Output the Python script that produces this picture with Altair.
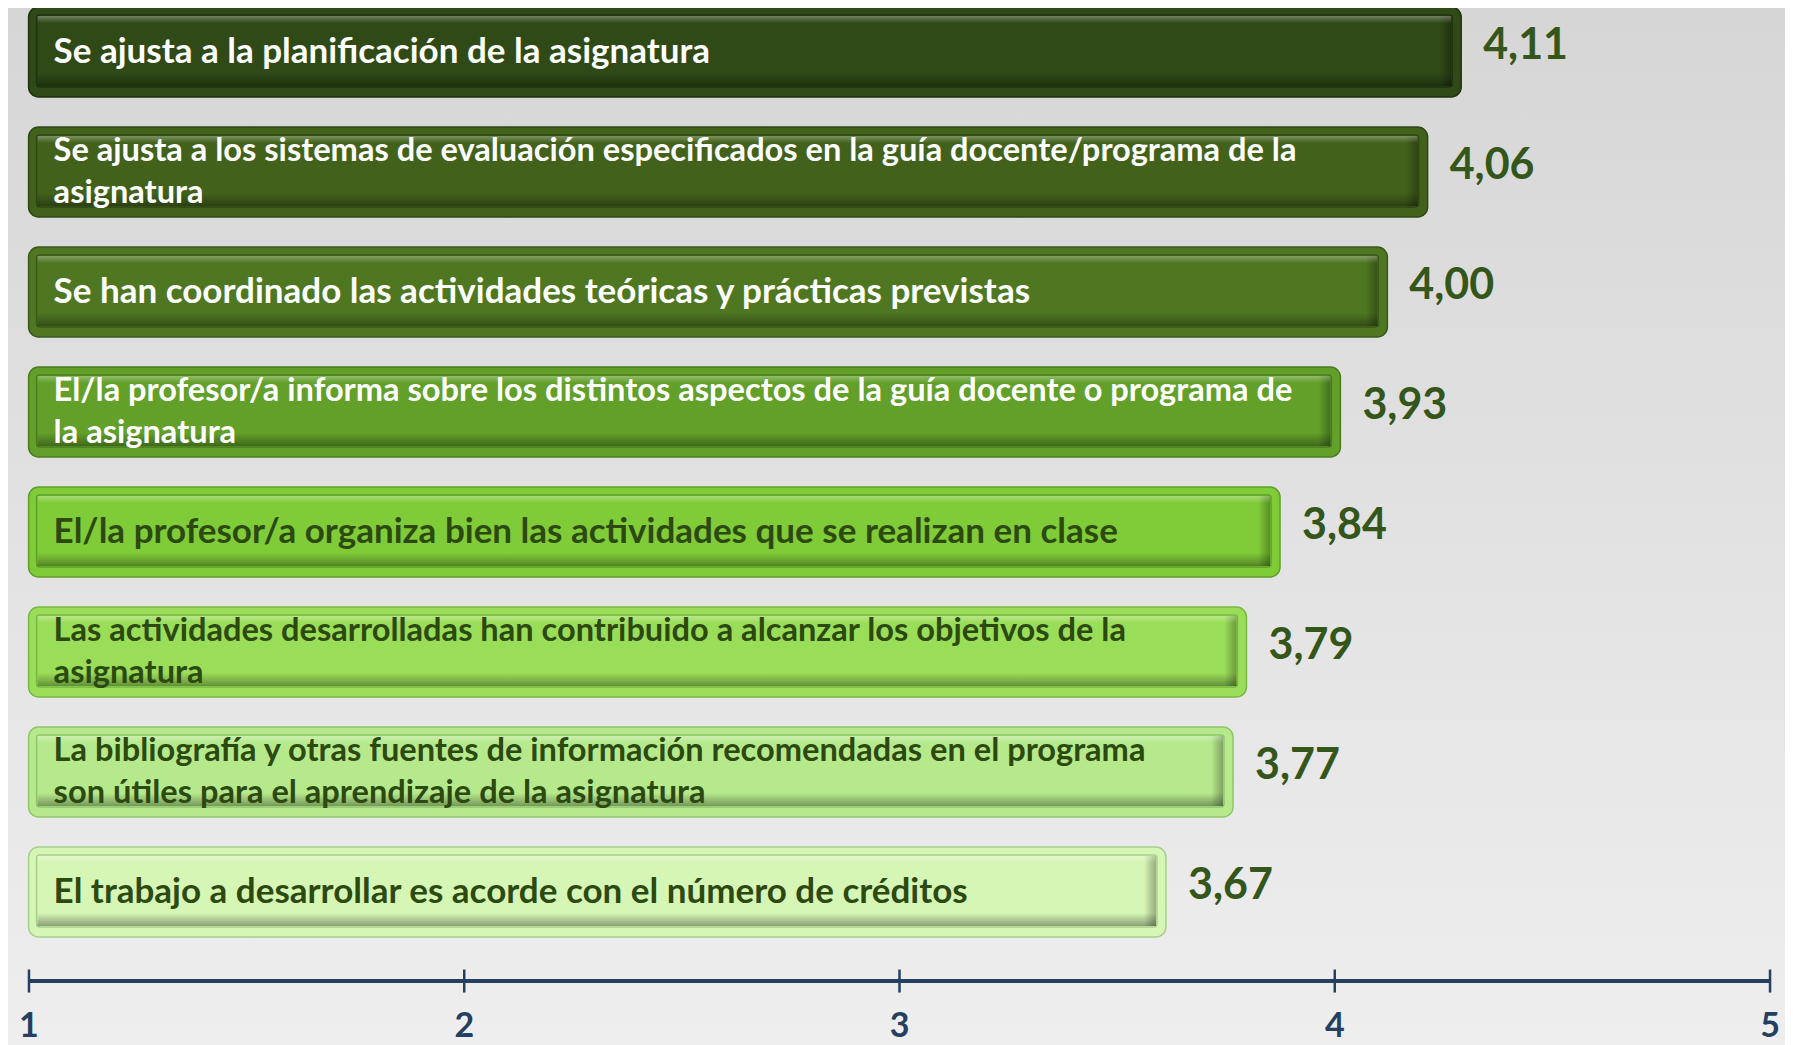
import altair as alt
import pandas as pd

# ---------------- data ----------------
LABELS = [
    "Se ajusta a la planificación de la asignatura",
    "Se ajusta a los sistemas de evaluación especificados en la guía docente/programa de la\nasignatura",
    "Se han coordinado las actividades teóricas y prácticas previstas",
    "El/la profesor/a informa sobre los distintos aspectos de la guía docente o programa de\nla asignatura",
    "El/la profesor/a organiza bien las actividades que se realizan en clase",
    "Las actividades desarrolladas han contribuido a alcanzar los objetivos de la\nasignatura",
    "La bibliografía y  otras fuentes de información recomendadas en el programa\nson útiles para el aprendizaje de la asignatura",
    "El trabajo a desarrollar es acorde con el número de créditos",
]
VALUES = [4.11, 4.06, 4.00, 3.93, 3.84, 3.79, 3.77, 3.67]
TICKS = [1, 2, 3, 4, 5]

# ---------------- styles ----------------
FACE = ["#2f4a16", "#42621c", "#4f7722", "#62a02a", "#80cb38", "#9add58", "#b6e98c", "#d6f6b6"]
EDGE = ["#1f3210", "#2e4713", "#3a5a18", "#4b7d1f", "#5f9f29", "#77b942", "#8fc66a", "#a9cf8c"]
AXIS_COLOR = "#243f60"
VALUE_COLOR = "#34561a"
DARK_TEXT = "#2c4a10"

BAR_BASE = 1.975
XB_DOM = [1.9443, 4.5926]
XA_DOM = [0.9518, 5.0344]
Y_DOM = [-0.3667, 8.275]
X_BARS = alt.Scale(domain=XB_DOM, nice=False, zero=False)
X_AXIS = alt.Scale(domain=XA_DOM, nice=False, zero=False)
Y_S = alt.Scale(domain=Y_DOM, nice=False, zero=False, reverse=True)
HALF = 0.375
LINE_STEP = 0.35          # 42 px line height in row units
AXIS_ROW = 7.742
TICK_HALF = 0.096
LABEL_ROW = 8.125

nlines = [lab.count("\n") + 1 for lab in LABELS]
df = pd.DataFrame({
    "row": list(range(len(VALUES))),
    "label": LABELS,
    "nl": nlines,
    "value": VALUES,
    "vtext": [f"{v:.2f}".replace(".", ",") for v in VALUES],
    "face": FACE,
    "edge": EDGE,
})
df_ticks = pd.DataFrame({"tick": TICKS, "ttext": [str(t) for t in TICKS]})
df_line = pd.DataFrame({"start": [TICKS[0]], "end": [TICKS[-1]]})
df_bg = pd.DataFrame({"x0": [XA_DOM[0]], "x1": [XA_DOM[1]], "y0": [Y_DOM[0]], "y1": [Y_DOM[1]]})

base = alt.Chart(df).transform_calculate(
    base=str(BAR_BASE),
    top=f"datum.row - {HALF}",
    bot=f"datum.row + {HALF}",
    ly=f"datum.row - {LINE_STEP / 2} * (datum.nl - 1)",
)

def xb(field):
    return alt.X(field, type="quantitative", scale=X_BARS, axis=None)

def yb(field):
    return alt.Y(field, type="quantitative", scale=Y_S, axis=None)

def xa(field):
    return alt.X(field, type="quantitative", scale=X_AXIS, axis=None)

bg_grad = alt.LinearGradient(gradient="linear", x1=0, y1=0, x2=0, y2=1, stops=[
    alt.GradientStop(offset=0, color="#d6d6d6"),
    alt.GradientStop(offset=1, color="#eeeeee")])
background = alt.Chart(df_bg).mark_rect(fill=bg_grad).encode(
    x=xa("x0"), x2="x1:Q", y=yb("y0"), y2="y1:Q")

outer = base.mark_rect(cornerRadius=10, strokeWidth=1.5).encode(
    x=xb("base"), x2="value:Q", y=yb("top"), y2="bot:Q",
    fill=alt.Fill("face:N", scale=None), stroke=alt.Stroke("edge:N", scale=None),
)

inner = base.mark_rect(cornerRadius=3, strokeWidth=1.5, xOffset=8, x2Offset=-9,
                       yOffset=8, y2Offset=-10).encode(
    x=xb("base"), x2="value:Q", y=yb("top"), y2="bot:Q",
    fill=alt.Fill("face:N", scale=None), stroke=alt.Stroke("edge:N", scale=None),
)

shade_v = alt.LinearGradient(gradient="linear", x1=0, y1=0, x2=0, y2=1, stops=[
    alt.GradientStop(offset=0, color="rgba(0,0,0,0)"),
    alt.GradientStop(offset=1, color="rgba(0,0,0,0.35)")])
bottom_shadow = base.mark_rect(fill=shade_v, xOffset=9, x2Offset=-10,
                               yOffset=-24, y2Offset=-11).encode(
    x=xb("base"), x2="value:Q", y=yb("bot"), y2="bot:Q")

shade_h = alt.LinearGradient(gradient="linear", x1=0, y1=0, x2=1, y2=0, stops=[
    alt.GradientStop(offset=0, color="rgba(0,0,0,0)"),
    alt.GradientStop(offset=1, color="rgba(0,0,0,0.3)")])
right_shadow = base.mark_rect(fill=shade_h, xOffset=-22, x2Offset=-10,
                              yOffset=9, y2Offset=-11).encode(
    x=xb("value"), x2="value:Q", y=yb("top"), y2="bot:Q")

hl = alt.LinearGradient(gradient="linear", x1=0, y1=0, x2=0, y2=1, stops=[
    alt.GradientStop(offset=0, color="rgba(255,255,255,0.3)"),
    alt.GradientStop(offset=1, color="rgba(255,255,255,0)")])
top_light = base.mark_rect(fill=hl, xOffset=9, x2Offset=-10,
                           yOffset=9, y2Offset=16).encode(
    x=xb("base"), x2="value:Q", y=yb("top"), y2="top:Q")

labels = base.mark_text(align="left", baseline="middle", dx=25, font="Lato",
                        fontWeight="bold", lineBreak="\n",
                        lineHeight=42).encode(
    x=xb("base"), y=yb("ly"), text="label:N",
    size=alt.condition("datum.nl > 1", alt.value(32.6), alt.value(35)),
    color=alt.condition("datum.row < 4", alt.value("white"), alt.value(DARK_TEXT)),
)

values = base.mark_text(align="left", baseline="middle", dx=22, dy=-6, font="Lato",
                        fontWeight="bold", fontSize=43, color=VALUE_COLOR).encode(
    x=xb("value"), y=yb("row"), text="vtext:N")

axis_line = alt.Chart(df_line).transform_calculate(ay=str(AXIS_ROW)).mark_rule(
    color=AXIS_COLOR, strokeWidth=4).encode(
    x=xa("start"), x2="end:Q", y=yb("ay"))

axis_ticks = alt.Chart(df_ticks).transform_calculate(
    t0=str(AXIS_ROW - TICK_HALF), t1=str(AXIS_ROW + TICK_HALF)
).mark_rule(color=AXIS_COLOR, strokeWidth=2.5).encode(
    x=xa("tick"), y=yb("t0"), y2="t1:Q")

axis_labels = alt.Chart(df_ticks).transform_calculate(
    ly=str(LABEL_ROW)
).mark_text(align="center", baseline="middle", font="Lato", fontWeight="bold",
            fontSize=34, color=AXIS_COLOR).encode(
    x=xa("tick"), y=yb("ly"), text="ttext:N")

chart = alt.layer(
    background, outer, inner, bottom_shadow, right_shadow, top_light, labels, values,
    axis_line, axis_ticks, axis_labels,
).resolve_scale(x="independent").properties(
    width=1777, height=1037,
    autosize=alt.AutoSizeParams(type="none"),
    padding=0,
).configure_view(strokeWidth=0)

chart.save("out.html", embed_options={"renderer": "svg", "actions": False})
